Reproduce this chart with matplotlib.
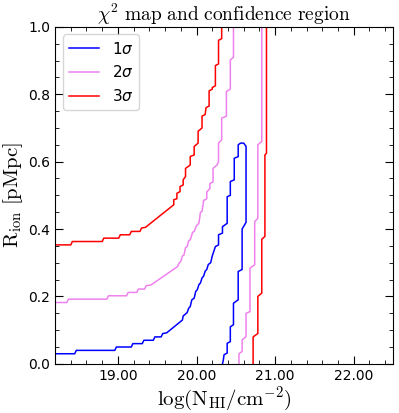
import matplotlib
matplotlib.use('Agg')
import matplotlib.pyplot as plt
from matplotlib.ticker import MultipleLocator, FormatStrFormatter
from matplotlib.font_manager import FontProperties

plt.rcParams['mathtext.fontset'] = 'cm'

# contour vertices (logN, R_ion)
sig1_x = [18.2, 18.45, 18.47, 18.96, 18.98, 19.17, 19.19, 19.31, 19.33, 19.45, 19.47, 19.55,
          19.57, 19.62, 19.82, 19.83, 19.88, 19.90, 19.92, 19.94, 19.97, 19.99, 20.01, 20.03,
          20.05, 20.07, 20.09, 20.11, 20.13, 20.15, 20.18, 20.20, 20.24, 20.28, 20.28, 20.33,
          20.33, 20.39, 20.39, 20.43, 20.43, 20.48, 20.48, 20.53, 20.53, 20.56, 20.60, 20.63,
          20.63, 20.58, 20.58, 20.53, 20.53, 20.47, 20.47, 20.43, 20.43, 20.39, 20.39, 20.35,
          20.34, 20.33]
sig1_y = [0.030, 0.030, 0.040, 0.040, 0.050, 0.050, 0.060, 0.060, 0.070, 0.070, 0.080, 0.080,
          0.090, 0.092, 0.130, 0.142, 0.152, 0.165, 0.170, 0.190, 0.195, 0.215, 0.220, 0.235,
          0.240, 0.255, 0.260, 0.275, 0.280, 0.295, 0.300, 0.320, 0.348, 0.353, 0.383, 0.388,
          0.407, 0.417, 0.496, 0.500, 0.541, 0.546, 0.610, 0.615, 0.650, 0.655, 0.655, 0.645,
          0.420, 0.400, 0.280, 0.274, 0.190, 0.180, 0.116, 0.110, 0.066, 0.061, 0.032, 0.027,
          0.010, 0.0]

sig2_left_x = [18.2, 18.35, 18.37, 18.86, 18.88, 19.11, 19.13, 19.24, 19.26, 19.34, 19.36, 19.42,
               19.76, 19.78, 19.80, 19.82, 19.84, 19.86, 19.88, 19.90, 19.92, 19.95, 19.97, 20.00,
               20.03, 20.05, 20.07, 20.09, 20.11, 20.13, 20.13, 20.17, 20.17, 20.21, 20.21, 20.26,
               20.28, 20.28, 20.32, 20.32, 20.38, 20.38, 20.43, 20.43, 20.47, 20.47]
sig2_left_y = [0.182, 0.182, 0.192, 0.192, 0.202, 0.202, 0.212, 0.212, 0.222, 0.222, 0.232, 0.234,
               0.289, 0.300, 0.304, 0.320, 0.323, 0.345, 0.348, 0.365, 0.368, 0.390, 0.393, 0.410,
               0.417, 0.450, 0.452, 0.485, 0.487, 0.490, 0.510, 0.520, 0.535, 0.540, 0.580, 0.590,
               0.600, 0.655, 0.665, 0.729, 0.735, 0.808, 0.815, 0.902, 0.910, 1.0]
sig2_right_x = [20.83, 20.83, 20.78, 20.78, 20.74, 20.74, 20.68, 20.68, 20.63, 20.63, 20.58, 20.58,
                20.54, 20.54]
sig2_right_y = [1.0, 0.660, 0.650, 0.432, 0.422, 0.294, 0.284, 0.155, 0.150, 0.081, 0.071, 0.037,
                0.030, 0.0]

sig3_left_x = [18.2, 18.40, 18.42, 18.80, 18.82, 19.01, 19.03, 19.15, 19.17, 19.28, 19.30, 19.35,
               19.71, 19.71, 19.75, 19.75, 19.79, 19.79, 19.83, 19.83, 19.86, 19.86, 19.92, 19.92,
               19.97, 19.97, 20.02, 20.02, 20.07, 20.07, 20.11, 20.12, 20.16, 20.16, 20.20, 20.20,
               20.24, 20.24, 20.28, 20.28, 20.32, 20.32]
sig3_left_y = [0.353, 0.353, 0.363, 0.363, 0.373, 0.373, 0.383, 0.383, 0.393, 0.393, 0.403, 0.405,
               0.472, 0.487, 0.490, 0.506, 0.511, 0.526, 0.531, 0.546, 0.556, 0.580, 0.590, 0.615,
               0.620, 0.645, 0.655, 0.690, 0.700, 0.735, 0.740, 0.760, 0.765, 0.810, 0.815, 0.820,
               0.825, 0.885, 0.890, 0.960, 0.965, 1.0]
sig3_right_x = [20.89, 20.89, 20.87, 20.87, 20.83, 20.83, 20.78, 20.78, 20.72, 20.72]
sig3_right_y = [1.0, 0.625, 0.620, 0.378, 0.370, 0.210, 0.200, 0.090, 0.080, 0.0]

x_major = [19, 20, 21, 22]

fig = plt.figure(figsize=(3.99, 4.13), dpi=100)
ax = fig.add_axes([0.138, 0.119, 0.847, 0.816])

lw = 1.1
ax.plot(sig1_x, sig1_y, color='blue', lw=lw, label=r'$1\sigma$')
ax.plot(sig2_left_x, sig2_left_y, color='violet', lw=lw, label=r'$2\sigma$')
ax.plot(sig2_right_x, sig2_right_y, color='violet', lw=lw)
ax.plot(sig3_left_x, sig3_left_y, color='red', lw=lw, label=r'$3\sigma$')
ax.plot(sig3_right_x, sig3_right_y, color='red', lw=lw)

ax.set_xlim(18.2, 22.5)
ax.set_ylim(0, 1.0)
ax.set_xticks(x_major)
ax.xaxis.set_major_formatter(FormatStrFormatter('%.2f'))
ax.xaxis.set_minor_locator(MultipleLocator(0.2))
ax.yaxis.set_major_locator(MultipleLocator(0.2))
ax.yaxis.set_minor_locator(MultipleLocator(0.05))
ax.tick_params(which='both', direction='in', top=True, right=True, labelsize=10)
ax.tick_params(which='major', length=6)
ax.tick_params(which='minor', length=3)

ax.set_title(r'$\chi^2\ \mathrm{map\ and\ confidence\ region}$', fontsize=14, pad=3)
ax.set_xlabel(r'$\log(\mathrm{N_{HI}/cm^{-2}})$', fontsize=15, labelpad=1)
ax.set_ylabel(r'$\mathrm{R_{ion}\ [pMpc]}$', fontsize=15, labelpad=2)

# legend uses the default sans math font like the original
leg_font = FontProperties(size=11, math_fontfamily='dejavusans')
ax.legend(loc='upper left', prop=leg_font)

fig.savefig('out.png', dpi=100)
